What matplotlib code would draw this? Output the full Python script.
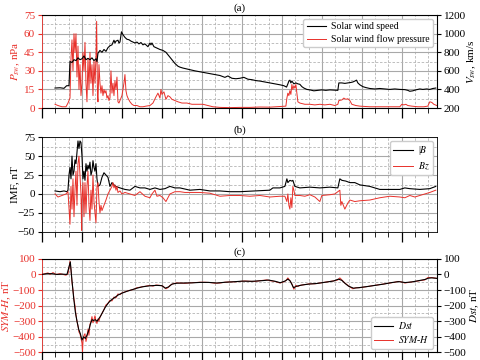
import numpy as np
import matplotlib
matplotlib.use('Agg')
from matplotlib import pyplot as plt
from matplotlib.ticker import MultipleLocator

plt.rcParams['font.family'] = ['Liberation Serif', 'DejaVu Serif']
plt.rcParams['mathtext.fontset'] = 'stix'
plt.rcParams['font.size'] = 8
plt.rcParams['axes.unicode_minus'] = True

RED = '#e8302a'

## solar wind speed, km/s (hours from start)
t_v = [7.8, 10.8, 13.2, 14.8, 16.2, 16.8, 18, 19.2, 20.4, 21.6, 22.8, 24, 25.2, 26.4, 27.6, 28.8,
       30, 31.2, 32.4, 33, 33.6, 34.8, 36, 37.2, 38.4, 39.6, 40.8, 42, 43.2, 43.8, 44.4, 45.6,
       46.2, 46.8, 47.7, 48.6, 49.8, 51, 52.2, 53.4, 54.6, 55.8, 57, 58.2, 59.4, 60.6, 61.8, 63,
       63.6, 64.8, 65.4, 66, 67.2, 68.4, 69.6, 70.8, 72.6, 74.4, 76.2, 78, 79.8, 81.6, 82.8, 84.6,
       87, 89.4, 91.8, 94.8, 97.8, 100.8, 103.8, 106.8, 109.8, 111.6, 114, 116.4, 118.8, 121.2,
       123.6, 126, 128.4, 130.8, 133.8, 136.8, 139.8, 142.8, 145.2, 146.8, 147.6, 148.2, 148.8,
       149.4, 150, 151.2, 152.4, 153.6, 154.8, 156, 157.2, 159, 160.8, 163.2, 165.6, 168, 170.4,
       172.8, 175.2, 177.6, 178.2, 180, 181.8, 183.6, 185.4, 186.6, 187.8, 188.8, 189.6, 190.8,
       192.6, 194.4, 196.8, 199.8, 202.8, 205.8, 208.8, 211.8, 214.8, 217.8, 219.6, 220.8, 222.6,
       224.4, 226.8, 228.6, 231, 232.8, 234.6, 236.4]
v_sw = [415, 418, 412, 440, 440, 700, 690, 720, 710, 740, 720, 730, 760, 720, 735, 720,
        740, 710, 730, 700, 790, 820, 800, 830, 810, 850, 870, 880, 930, 900, 920, 930,
        900, 910, 1020, 990, 960, 940, 935, 920, 910, 900, 910, 890, 905, 880, 890, 870,
        860, 900, 880, 900, 860, 850, 840, 830, 820, 800, 760, 720, 680, 650, 640, 630,
        620, 610, 600, 590, 580, 570, 560, 550, 530, 545, 520, 515, 520, 530,
        510, 505, 495, 490, 480, 470, 460, 450, 440, 425, 460, 490, 500,
        470, 490, 460, 470, 460, 455, 430, 415, 400, 395, 385, 390, 395, 390,
        395, 392, 390, 470, 470, 465, 470, 475, 480, 490, 500, 470, 450,
        430, 420, 410, 405, 410, 405, 400, 405, 400, 398, 390, 380, 385,
        395, 405, 400, 405, 400, 410, 415]

## solar wind flow pressure, nPa
t_p = [7.8, 9.6, 12, 14.4, 15.6, 16.8, 17.4, 18, 18.6, 19.2, 19.8, 20.4, 21, 21.6, 22.2, 22.8,
       23.4, 24, 24.6, 25.2, 25.8, 26.4, 27, 27.6, 28.2, 28.8, 29.4, 30, 30.6, 31.2, 31.8, 32.4,
       32.8, 33.3, 33.6, 34.2, 34.8, 35.4, 36, 36.6, 37.2, 37.8, 38.4, 39, 39.6, 40.2, 40.8, 41.4,
       42, 42.6, 43.2, 43.8, 44.4, 45, 45.6, 46.2, 46.8, 47.4, 48, 48.6, 49.2, 49.8, 50.4, 51,
       51.6, 52.8, 54, 55.2, 57, 58.8, 60.6, 62.4, 64.8, 66.6, 68.4, 69.6, 70.8, 71.4, 72, 73.2,
       74.4, 75.6, 76.8, 78, 79.8, 81.6, 84, 87, 90, 93, 96.6, 99.6, 102.6, 106.8, 112.8, 118.8,
       124.8, 130.8, 136.8, 142.8, 146.4, 147, 147.6, 148.2, 148.8, 149.4, 150, 150.6, 151.2,
       151.8, 152.4, 153, 153.6, 154.8, 157.8, 160.8, 163.8, 166.8, 169.8, 172.8, 175.8, 177.6,
       178.2, 180, 181.2, 182.4, 183.6, 184.8, 186, 188.4, 190.8, 196.8, 202.8, 208.8, 214.8,
       216, 217.2, 218.4, 219.6, 222, 225.6, 229.2, 231.6, 232.8, 234, 235.2, 237]
p_sw = [3, 2, 1, 1, 4, 8, 40, 55, 30, 60, 45, 60, 25, 50, 15, 35,
        10, 20, 45, 30, 53, 20, 5, 40, 15, 45, 20, 35, 10, 38, 20, 40,
        70, 10, 5, 35, 20, 12, 18, 10, 15, 12, 14, 8, 10, 6, 8, 30,
        12, 20, 10, 22, 15, 25, 5, 4, 6, 8, 10, 15, 20, 27, 14, 10,
        8, 5, 3, 2, 2, 1, 1, 1.5, 2, 4, 9, 12, 8, 15, 11, 13,
        7, 10, 9, 7, 6, 5, 4, 4, 3, 3, 3, 2, 1, 0.5, 0.3, 0.5,
        0.5, 0.8, 0.7, 1.2, 1.5, 8, 12, 10, 14, 11, 19, 15, 18,
        16, 19, 12, 5, 4, 3, 3, 2.5, 3, 2.5, 3, 2, 3,
        6, 6.5, 8, 7, 7.5, 6, 3, 2, 1.5, 1, 1, 1, 1,
        3, 2.5, 3, 2, 1.5, 1, 1, 1.5, 5, 4.5, 3, 2]

## IMF |B| and Bz, nT
t_b = [7.8, 10.8, 13.2, 15, 15.6, 16.2, 16.8, 17.4, 18, 18.6, 19.2, 19.8, 20.4, 21, 21.6, 22.2,
       22.8, 23.4, 24, 24.6, 25.2, 25.8, 26.4, 27, 27.6, 28.2, 28.8, 29.4, 30, 30.6, 31.2, 31.8,
       32.4, 33, 33.6, 34.8, 36, 37.2, 38.4, 39.6, 40.8, 42, 43.2, 44.4, 46.8, 49.8, 52.8, 55.8,
       58.8, 61.8, 64.8, 67.8, 70.8, 73.8, 76.8, 79.8, 82.8, 88.8, 94.8, 100.8, 106.8, 112.8,
       118.8, 127.8, 136.8, 138.6, 142.8, 145.8, 147, 147.6, 148.8, 150, 150.6, 151.8, 154.8,
       160.8, 166.8, 172.8, 177.6, 178.8, 180, 182.4, 184.8, 187.8, 190.8, 196.8, 202.8, 208.8,
       214.8, 217.8, 220.8, 226.8, 232.8, 236.4]
b_tot = [4, 3, 4, 3, 5, 25, 35, 20, 50, 25, 30, 45, 40, 55, 70, 60,
         70, 68, 50, 20, 30, 18, 40, 30, 38, 33, 42, 25, 30, 44, 35, 30,
         40, 20, 10, 12, 22, 28, 25, 22, 10, 15, 12, 10, 8, 6, 5, 10,
         8, 8, 6, 8, 6, 7, 10, 8, 8, 5, 6, 4, 4, 3,
         3, 4, 5, 8, 8, 10, 20, 15, 18, 17, 18, 10, 8,
         9, 8, 9, 8, 20, 18, 17, 15, 15, 12, 10, 6, 6,
         6, 8, 7, 6, 7, 10]

t_bz = [7.8, 9.6, 12, 14.4, 15.6, 16.8, 17.4, 18, 18.6, 19.2, 19.8, 20.4, 21, 21.6, 22.2, 22.8,
        23.4, 23.8, 24, 24.6, 25.2, 25.8, 26.4, 27, 27.6, 28.2, 28.8, 29.4, 30, 30.6, 31.2, 31.8,
        32.4, 33, 33.6, 34.2, 34.8, 35.4, 36, 37.2, 38.4, 39.6, 40.8, 42, 42.6, 43.2, 43.8, 44.4,
        45, 45.6, 46.8, 48, 49.8, 52.8, 55.8, 58.8, 61.8, 64.8, 66, 67.8, 69, 70.8, 72.6, 74.4,
        75.6, 76.8, 79.8, 82.8, 85.8, 88.8, 94.8, 100.8, 106.8, 112.8, 118.8, 124.8, 130.8, 136.8,
        142.8, 145.8, 147, 147.6, 148.2, 148.8, 149.4, 150, 150.6, 151.2, 151.8, 154.8, 157.8,
        160.8, 163.8, 166.8, 168, 172.8, 175.8, 178.8, 179.4, 180, 181.8, 183.6, 184.8, 187.8,
        190.8, 196.8, 202.8, 208.8, 214.8, 217.8, 220.8, 223.8, 226.8, 229.8, 232.8, 236.4]
b_z = [0, -4, -2, 0, 3, -40, 10, -20, 20, -30, 5, 30, -15, 40, 50, 25,
       0, -48, -10, 15, -30, 15, -25, 10, 30, -15, -35, 5, -20, 25, -10, -25,
       -38, 10, 15, -10, -25, -15, -22, -15, -8, 0, 5, 10, 15, 8, 12, 5,
       10, 2, 4, 0, 2, 0, -2, 3, -3, -5, 0, 5, -3, -2, -5, -10,
       -5, 0, 3, 3, 2, 2, 2, 1, -3, -2, -2, -3, -2, -4,
       -3, -3, -10, 0, -15, -20, -5, -18, 10, 5, -2, -2, -3,
       -1, -4, -10, -2, -1, 0, 5, -15, -10, -20, -12, -8, -10,
       -9, -8, -5, -3, -4, -5, -2, -4, -2, 0, 2, 5]

## SYM-H (1-min) and Dst (hourly), nT
t_sym = [0, 1.8, 3.6, 4.8, 6.6, 8.4, 10.8, 12.6, 14.4, 15.6, 16.2, 16.8, 17.4, 18, 18.6, 19.2,
         19.8, 20.4, 21, 21.6, 22.2, 22.8, 23.4, 24, 24.3, 24.6, 25.2, 25.8, 26.4, 27, 27.6, 28.2,
         28.8, 29.4, 30, 30.6, 31.2, 31.8, 32.4, 33, 33.6, 34.2, 34.8, 36, 37.2, 38.4, 39.6, 40.8,
         42, 43.2, 44.4, 45.6, 46.8, 48, 49.8, 51.6, 53.4, 55.2, 57, 58.8, 60.6, 62.4, 64.8, 66.6,
         68.4, 70.8, 72.6, 74.4, 75.6, 76.8, 78.6, 80.4, 82.8, 85.8, 88.8, 91.8, 94.8, 97.8, 100.8,
         103.8, 106.8, 109.8, 112.8, 115.8, 118.8, 121.8, 124.8, 127.8, 130.8, 135, 136.8, 139.8,
         142.8, 144.6, 146.4, 147.6, 148.8, 150, 151.2, 152.4, 153.6, 154.8, 157.8, 160.8, 163.8,
         166.8, 169.8, 172.8, 175.8, 177.6, 178.8, 180, 181.8, 183.6, 184.8, 186.6, 188.4, 190.8,
         193.8, 196.8, 199.8, 202.8, 205.8, 208.8, 211.8, 213.6, 214.8, 217.8, 220.8, 223.8,
         226.8, 229.8, 231.6, 234, 237]
sym_h = [0, 5, 10, 0, 12, 0, 5, 0, -5, 5, 40, 85, 30, -50, -100, -160,
         -200, -260, -300, -330, -370, -380, -410, -440, -500, -430, -390, -380, -430, -400, -350, -390,
         -320, -300, -270, -310, -290, -265, -300, -315, -285, -300, -275, -250, -225, -195, -185, -165,
         -170, -145, -150, -125, -130, -118, -112, -105, -100, -95, -85, -82, -78, -75, -70, -75,
         -68, -70, -75, -92, -85, -70, -60, -55, -55, -57, -54, -52, -50, -50, -52,
         -56, -55, -50, -48, -47, -45, -42, -44, -45, -40, -35, -40, -45,
         -55, -50, -40, -22, -40, -60, -95, -70, -78, -70, -65, -60, -60,
         -55, -50, -45, -40, -35, -22, -35, -55, -70, -80, -92, -85, -85,
         -80, -75, -70, -65, -60, -55, -50, -45, -45, -55, -50, -45,
         -40, -35, -20, -20, -25]

t_dst = [0, 3, 6, 9, 12, 15, 16, 17, 18, 19, 20, 21, 22, 23, 24, 25, 26, 27, 28, 29, 30, 31,
         32, 33, 34, 35, 36, 38, 40, 42, 44, 46, 48, 51, 54, 57, 60, 63, 66, 69, 72, 74, 76, 78,
         81, 85, 90, 95, 100, 105, 110, 115, 120, 126, 132, 136, 140, 143, 146, 147.6, 149, 151,
         153, 156, 160, 165, 170, 175, 178, 180, 182, 184, 187, 190, 195, 200, 205, 210, 214,
         218, 222, 226, 230, 232, 234, 237]
dst = [0, 5, 5, 0, 2, 0, 40, 80, -40, -150, -240, -300, -350, -380, -420, -400, -410, -390,
       -360, -320, -290, -295, -290, -300, -285, -270, -250, -210, -180, -160, -145, -130, -120,
       -108, -98, -88, -80, -75, -72, -70, -72, -88, -80, -62, -56, -55, -54, -51, -51, -55,
       -50, -47, -43, -44, -40, -36, -44, -53, -42, -30, -42, -85, -75, -68, -62, -58, -50,
       -42, -30, -38, -58, -75, -88, -85, -78, -70, -62, -52, -46, -52, -48, -40, -32, -24,
       -22, -25]

fig = plt.figure(figsize=(4.8, 3.6), dpi=100)
ax1 = fig.add_axes([0.0875, 0.700, 0.8225, 0.258])
ax2 = fig.add_axes([0.0875, 0.356, 0.8225, 0.263])
ax3 = fig.add_axes([0.0875, 0.021, 0.8225, 0.260])


def style_x(ax):
    ax.set_xlim(0, 237)
    ax.xaxis.set_major_locator(MultipleLocator(24))
    ax.xaxis.set_minor_locator(MultipleLocator(8))
    ax.tick_params(axis='x', which='major', direction='out', length=7, width=0.9,
                   labelbottom=False)
    ax.tick_params(axis='x', which='minor', direction='out', length=3.5, width=0.6)
    ax.grid(True, which='major', color='#a8a8a8', lw=0.8, ls='-')
    ax.grid(True, which='minor', color='#b4b4b4', lw=0.6, ls=(0, (3, 2)))
    ax.set_axisbelow(True)
    for s in ax.spines.values():
        s.set_linewidth(0.6)


leg_kw = dict(fontsize=7, handlelength=2.0, borderaxespad=0.4, framealpha=1,
              edgecolor='#cccccc', borderpad=0.35, labelspacing=0.3, handletextpad=0.5)

## (a) solar wind
ax1.plot(t_p, p_sw, color=RED, lw=0.7, label='Solar wind flow pressure')
ax1.set_ylim(0, 75)
ax1.yaxis.set_major_locator(MultipleLocator(15))
ax1.yaxis.set_minor_locator(MultipleLocator(7.5))
style_x(ax1)
ax1.tick_params(axis='y', which='major', colors=RED, length=3, pad=2)
ax1.tick_params(axis='y', which='minor', length=0)
ax1.spines['left'].set_color(RED)
ax1.set_ylabel('$P_{sw}$, nPa', color=RED, fontsize=8)
ax1.yaxis.set_label_coords(-0.05, 0.5)
ax1.set_title('(a)', fontsize=8, pad=3)

ax1b = ax1.twinx()
ax1b.plot(t_v, v_sw, color='black', lw=0.8, label='Solar wind speed')
ax1b.set_ylim(200, 1200)
ax1b.yaxis.set_major_locator(MultipleLocator(200))
ax1b.tick_params(axis='y', length=3, pad=2)
ax1b.spines['left'].set_visible(False)
ax1b.set_ylabel('$V_{sw}$, km/s', fontsize=8)
ax1b.yaxis.set_label_coords(1.073, 0.5)
h1, l1 = ax1b.get_legend_handles_labels()
h2, l2 = ax1.get_legend_handles_labels()
ax1b.legend(h1 + h2, l1 + l2, loc='upper right', **leg_kw)

## (b) IMF
ax2.plot(t_b, b_tot, color='black', lw=0.8, label='|$B$')
ax2.plot(t_bz, b_z, color=RED, lw=0.7, label='$Bz$')
ax2.set_ylim(-50, 75)
ax2.yaxis.set_major_locator(MultipleLocator(25))
ax2.yaxis.set_minor_locator(MultipleLocator(12.5))
style_x(ax2)
ax2.tick_params(axis='y', which='major', length=3, pad=2)
ax2.tick_params(axis='y', which='minor', length=0)
ax2.set_ylabel('IMF, nT', fontsize=8)
ax2.yaxis.set_label_coords(-0.058, 0.5)
ax2.set_title('(b)', fontsize=8, pad=3)
ax2.legend(loc='upper right', **leg_kw)

## (c) geomagnetic indices
ax3.plot(t_sym, sym_h, color=RED, lw=0.7, label='$SYM$-$H$')
ax3.set_ylim(-500, 100)
ax3.yaxis.set_major_locator(MultipleLocator(100))
ax3.yaxis.set_minor_locator(MultipleLocator(50))
style_x(ax3)
ax3.tick_params(axis='y', which='major', colors=RED, length=3, pad=1.5)
ax3.tick_params(axis='y', which='minor', length=0)
ax3.spines['left'].set_color(RED)
ax3.set_ylabel('$SYM$-$H$, nT', color=RED, fontsize=8)
ax3.yaxis.set_label_coords(-0.073, 0.5)
ax3.set_title('(c)', fontsize=8, pad=3)

ax3b = ax3.twinx()
ax3b.plot(t_dst, dst, color='black', lw=0.8, label='$Dst$')
ax3b.set_ylim(-500, 100)
ax3b.yaxis.set_major_locator(MultipleLocator(100))
ax3b.tick_params(axis='y', length=3, pad=2)
ax3b.spines['left'].set_visible(False)
ax3b.set_ylabel('$Dst$, nT', fontsize=8)
ax3b.yaxis.set_label_coords(1.08, 0.5)
h1, l1 = ax3b.get_legend_handles_labels()
h2, l2 = ax3.get_legend_handles_labels()
ax3b.legend(h1 + h2, l1 + l2, loc='lower right', **leg_kw)

fig.savefig('out.png', dpi=100)
